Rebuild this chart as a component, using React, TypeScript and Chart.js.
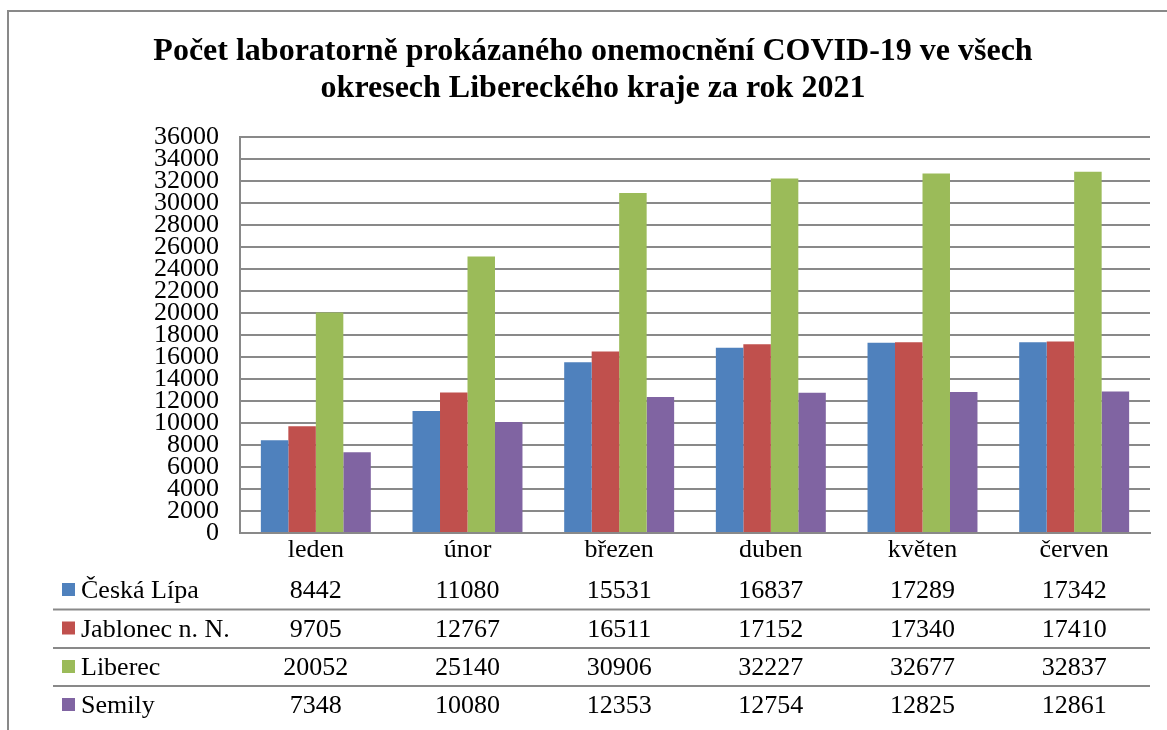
import React, { useEffect, useRef } from "react";
import { Chart, registerables } from "chart.js";

Chart.register(...registerables);

const months = ["leden", "únor", "březen", "duben", "květen", "červen"];
const seriesNames = ["Česká Lípa", "Jablonec n. N.", "Liberec", "Semily"];
const ceskaLipa = [8442, 11080, 15531, 16837, 17289, 17342];
const jablonec = [9705, 12767, 16511, 17152, 17340, 17410];
const liberec = [20052, 25140, 30906, 32227, 32677, 32837];
const semily = [7348, 10080, 12353, 12754, 12825, 12861];
const colors = ["#4F81BD", "#C0504D", "#9BBB59", "#8064A2"];
const titleLines = [
  "Počet laboratorně prokázaného onemocnění COVID-19 ve všech",
  "okresech Libereckého kraje za rok 2021",
];

const FONT = "'Liberation Serif', 'Times New Roman', serif";
const GRID = "#898989";

const decorPlugin = {
  id: "decor",
  beforeDraw(chart: any) {
    const ctx = chart.ctx;
    ctx.save();
    ctx.fillStyle = "#ffffff";
    ctx.fillRect(0, 0, chart.width, chart.height);
    ctx.strokeStyle = GRID;
    ctx.lineWidth = 2;
    ctx.beginPath();
    ctx.moveTo(8, chart.height);
    ctx.lineTo(8, 11);
    ctx.lineTo(chart.width, 11);
    ctx.stroke();
    ctx.restore();
  },
  afterDraw(chart: any) {
    const ctx = chart.ctx;
    const xs = chart.scales.x;
    ctx.save();
    // title
    ctx.fillStyle = "#000";
    ctx.font = `bold 32px ${FONT}`;
    ctx.textAlign = "center";
    ctx.textBaseline = "alphabetic";
    ctx.fillText(titleLines[0], 593, 59.5);
    ctx.fillText(titleLines[1], 593, 97);
    // data table
    const rows = [ceskaLipa, jablonec, liberec, semily];
    const baselines = [598, 636.5, 675, 713];
    ctx.font = `26px ${FONT}`;
    rows.forEach((vals, r) => {
      const b = baselines[r];
      ctx.fillStyle = colors[r];
      ctx.fillRect(62, b - 15, 13, 13);
      ctx.fillStyle = "#000";
      ctx.textAlign = "left";
      ctx.fillText(seriesNames[r], 81, b);
      ctx.textAlign = "center";
      vals.forEach((v, i) => {
        ctx.fillText(String(v), xs.getPixelForValue(i), b);
      });
    });
    ctx.strokeStyle = GRID;
    ctx.lineWidth = 2;
    [609.5, 648, 686].forEach((y) => {
      ctx.beginPath();
      ctx.moveTo(53, y);
      ctx.lineTo(chart.chartArea.right, y);
      ctx.stroke();
    });
    ctx.restore();
  },
};

export default function App() {
  const ref = useRef<HTMLCanvasElement | null>(null);
  useEffect(() => {
    if (!ref.current) return;
    const datasets = [ceskaLipa, jablonec, liberec, semily].map((d, i) => ({
      label: seriesNames[i],
      data: d,
      backgroundColor: colors[i],
      borderWidth: 0,
      barPercentage: 1,
      categoryPercentage: 0.725,
    }));
    const chart = new Chart(ref.current, {
      type: "bar",
      data: { labels: months, datasets },
      plugins: [decorPlugin],
      options: {
        animation: false,
        responsive: false,
        maintainAspectRatio: false,
        layout: { padding: { left: 0, top: 137, right: 17, bottom: 157 } },
        plugins: {
          legend: { display: false },
          title: { display: false },
          tooltip: { enabled: false },
        },
        scales: {
          x: {
            grid: { display: false, drawTicks: false },
            border: { display: true, color: GRID, width: 2 },
            ticks: {
              color: "#000",
              font: { family: FONT, size: 26 },
              padding: 2,
              maxRotation: 0,
              autoSkip: false,
            },
            afterFit(scale: any) {
              scale.height = 40;
            },
          },
          y: {
            min: 0,
            max: 36000,
            grid: { color: GRID, lineWidth: 2, drawTicks: false },
            border: { display: true, color: GRID, width: 2 },
            ticks: {
              stepSize: 2000,
              autoSkip: false,
              color: "#000",
              font: { family: FONT, size: 26, lineHeight: 1 },
              padding: 21,
              callback: (v: any) => String(v),
            },
            afterFit(scale: any) {
              scale.width = 240;
            },
          },
        },
      },
    });
    return () => chart.destroy();
  }, []);
  return (
    <div style={{ position: "fixed", left: 0, top: 0, width: 1167, height: 730, background: "#fff" }}>
      <canvas ref={ref} width={1167} height={730} style={{ width: 1167, height: 730, display: "block" }} />
    </div>
  );
}
